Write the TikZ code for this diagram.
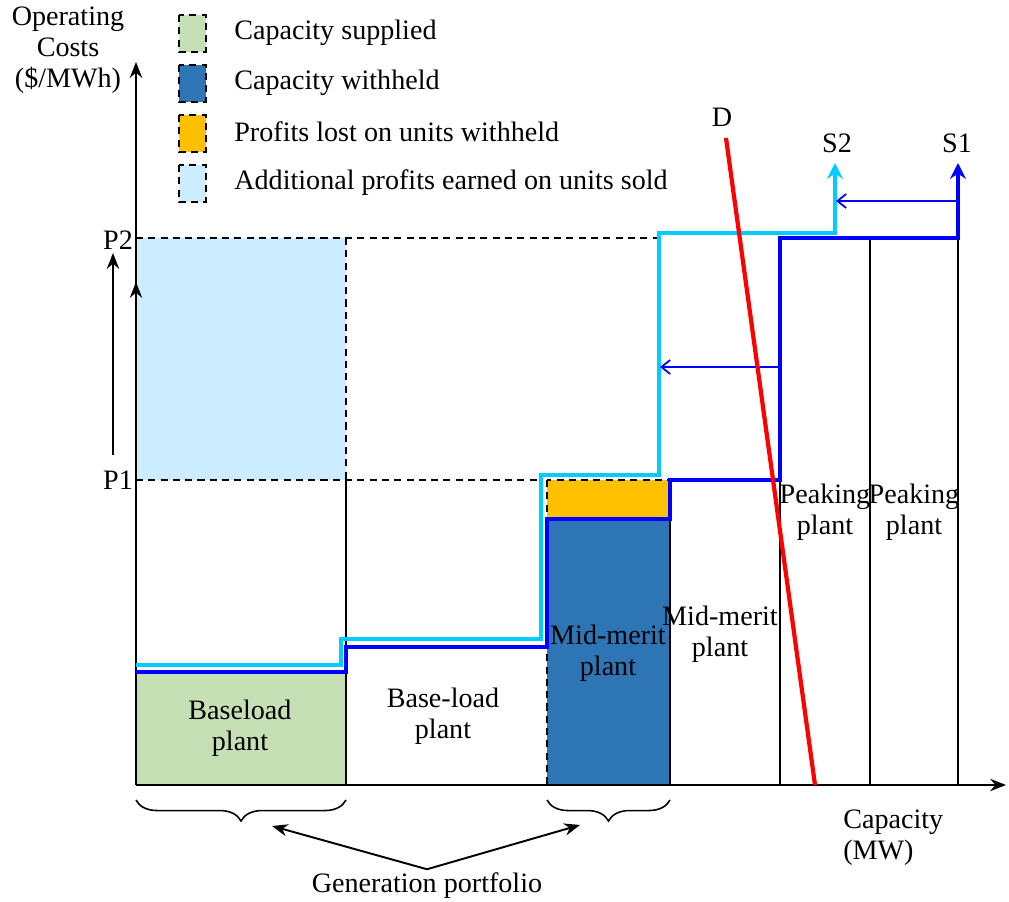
\documentclass[tikz,border=0pt]{standalone}
\usepackage{fontspec}
\setmainfont{Liberation Serif}
\usepackage{tikz}
\usetikzlibrary{arrows.meta}
\usetikzlibrary{decorations.pathreplacing}

\definecolor{supplied}{RGB}{197,224,180}
\definecolor{withheld}{RGB}{46,117,182}
\definecolor{lost}{RGB}{255,192,0}
\definecolor{extra}{RGB}{204,236,255}
\definecolor{newsupply}{RGB}{0,204,255}

\begin{document}
\begin{tikzpicture}[x=0.02cm,y=-0.02cm,
    lbl/.style={font=\fontsize{16}{17.5}\selectfont, align=center, inner sep=0pt},
    legendbox/.style={draw, line width=1pt, dash pattern=on 4pt off 3pt},
    dashline/.style={line width=0.9pt, dash pattern=on 4pt off 3pt},
    plantline/.style={line width=0.9pt},
    oldcurve/.style={blue, line width=2.4pt},
    newcurve/.style={newsupply, line width=2.4pt},
    shiftarrow/.style={blue, line width=1pt, -{Straight Barb[length=5pt,width=8pt]}}]
    \useasboundingbox (0,0) rectangle (1009,902);

    % shaded areas
    \fill[supplied] (136,672) rectangle (346,785);
    \fill[extra] (136,238) rectangle (346,480);
    \fill[withheld] (547,519) rectangle (670,785);
    \fill[lost] (547,480) rectangle (670,519);
    \draw[dashline] (547,519) rectangle (670,785);
    \draw[dashline] (547,480) rectangle (670,519);

    % price levels
    \draw[dashline] (136,238) -- (659,238);
    \draw[dashline] (136,480) -- (541,480);
    \draw[dashline] (346,238) -- (346,480);

    % plant blocks
    \draw[plantline] (346,480) -- (346,785);
    \draw[plantline] (670,519) -- (670,785);
    \draw[plantline] (780,480) -- (780,785);
    \draw[plantline] (870,238) -- (870,785);
    \draw[plantline] (958,238) -- (958,785);

    % axes
    \draw[line width=1.1pt, -{Stealth[length=9pt,width=7pt]}] (136,785) -- (136,62);
    \draw[line width=1.1pt, -{Stealth[length=9pt,width=7pt]}] (136,785) -- (1006,785);

    % supply curves
    \draw[newcurve, -{Stealth[length=9pt,width=9pt]}] (136,665) -- (341,665) -- (341,639) -- (541,639)
        -- (541,475) -- (659,475) -- (659,233) -- (835,233) -- (835,163);
    \draw[oldcurve, -{Stealth[length=9pt,width=9pt]}] (136,672) -- (346,672) -- (346,647) -- (547,647)
        -- (547,519) -- (670,519) -- (670,480) -- (780,480) -- (780,238) -- (958,238) -- (958,163);
    \draw[shiftarrow] (958,201) -- (836,201);
    \draw[shiftarrow] (780,367) -- (660,367);

    % demand
    \draw[red, line width=2.4pt] (726,138) -- (815,785);

    % price rise
    \draw[line width=1.1pt, -{Stealth[length=9pt,width=7pt]}] (113,455) -- (113,253);
    \draw[line width=1.1pt, -{Stealth[length=9pt,width=7pt]}] (136,480) -- (136,282);

    % labels
    \node[lbl] (yaxis) at (68,50) {Operating\\Costs\\(\$/MWh)};
    \node[lbl] (xaxis) [anchor=west, align=left] at (843,838) {Capacity\\(MW)};
    \node[lbl] (ptwo) at (118,240) {P2};
    \node[lbl] (pone) at (118,480) {P1};
    \node[lbl] (dlabel) at (722,117) {D};
    \node[lbl] (stwo) at (837,143) {S2};
    \node[lbl] (sone) at (957,143) {S1};
    \node[lbl] (baseA) at (240,728) {Baseload\\plant};
    \node[lbl] (baseB) at (443,716) {Base-load\\plant};
    \node[lbl] (midA) at (608,653) {Mid-merit\\plant};
    \node[lbl] (midB) at (720,634) {Mid-merit\\plant};
    \node[lbl] (peakA) at (825,512) {Peaking\\plant};
    \node[lbl] (peakB) at (914,512) {Peaking\\plant};

    % legend
    \draw[legendbox, fill=supplied] (179,15) rectangle (206,52);
    \draw[legendbox, fill=withheld] (179,65) rectangle (206,102);
    \draw[legendbox, fill=lost] (179,115) rectangle (206,152);
    \draw[legendbox, fill=extra] (179,165) rectangle (206,202);
    \node[lbl] (keyA) [anchor=west] at (234,33) {Capacity supplied};
    \node[lbl] (keyB) [anchor=west] at (234,83) {Capacity withheld};
    \node[lbl] (keyC) [anchor=west] at (234,132) {Profits lost on units withheld};
    \node[lbl] (keyD) [anchor=west] at (234,183) {Additional profits earned on units sold};

    % portfolio
    \draw[line width=0.9pt, decorate, decoration={brace, mirror, amplitude=12pt}] (136,800) -- (346,800);
    \draw[line width=0.9pt, decorate, decoration={brace, mirror, amplitude=12pt}] (547,800) -- (670,800);
    \node[lbl] (portfolio) at (427,886) {Generation portfolio};
    \coordinate (braceA) at (272,826);
    \coordinate (braceB) at (580,825);
    \draw[line width=1.1pt, -{Stealth[length=9pt,width=7pt]}] ([yshift=2pt]portfolio.north) -- (braceA);
    \draw[line width=1.1pt, -{Stealth[length=9pt,width=7pt]}] ([yshift=2pt]portfolio.north) -- (braceB);
\end{tikzpicture}
\end{document}
